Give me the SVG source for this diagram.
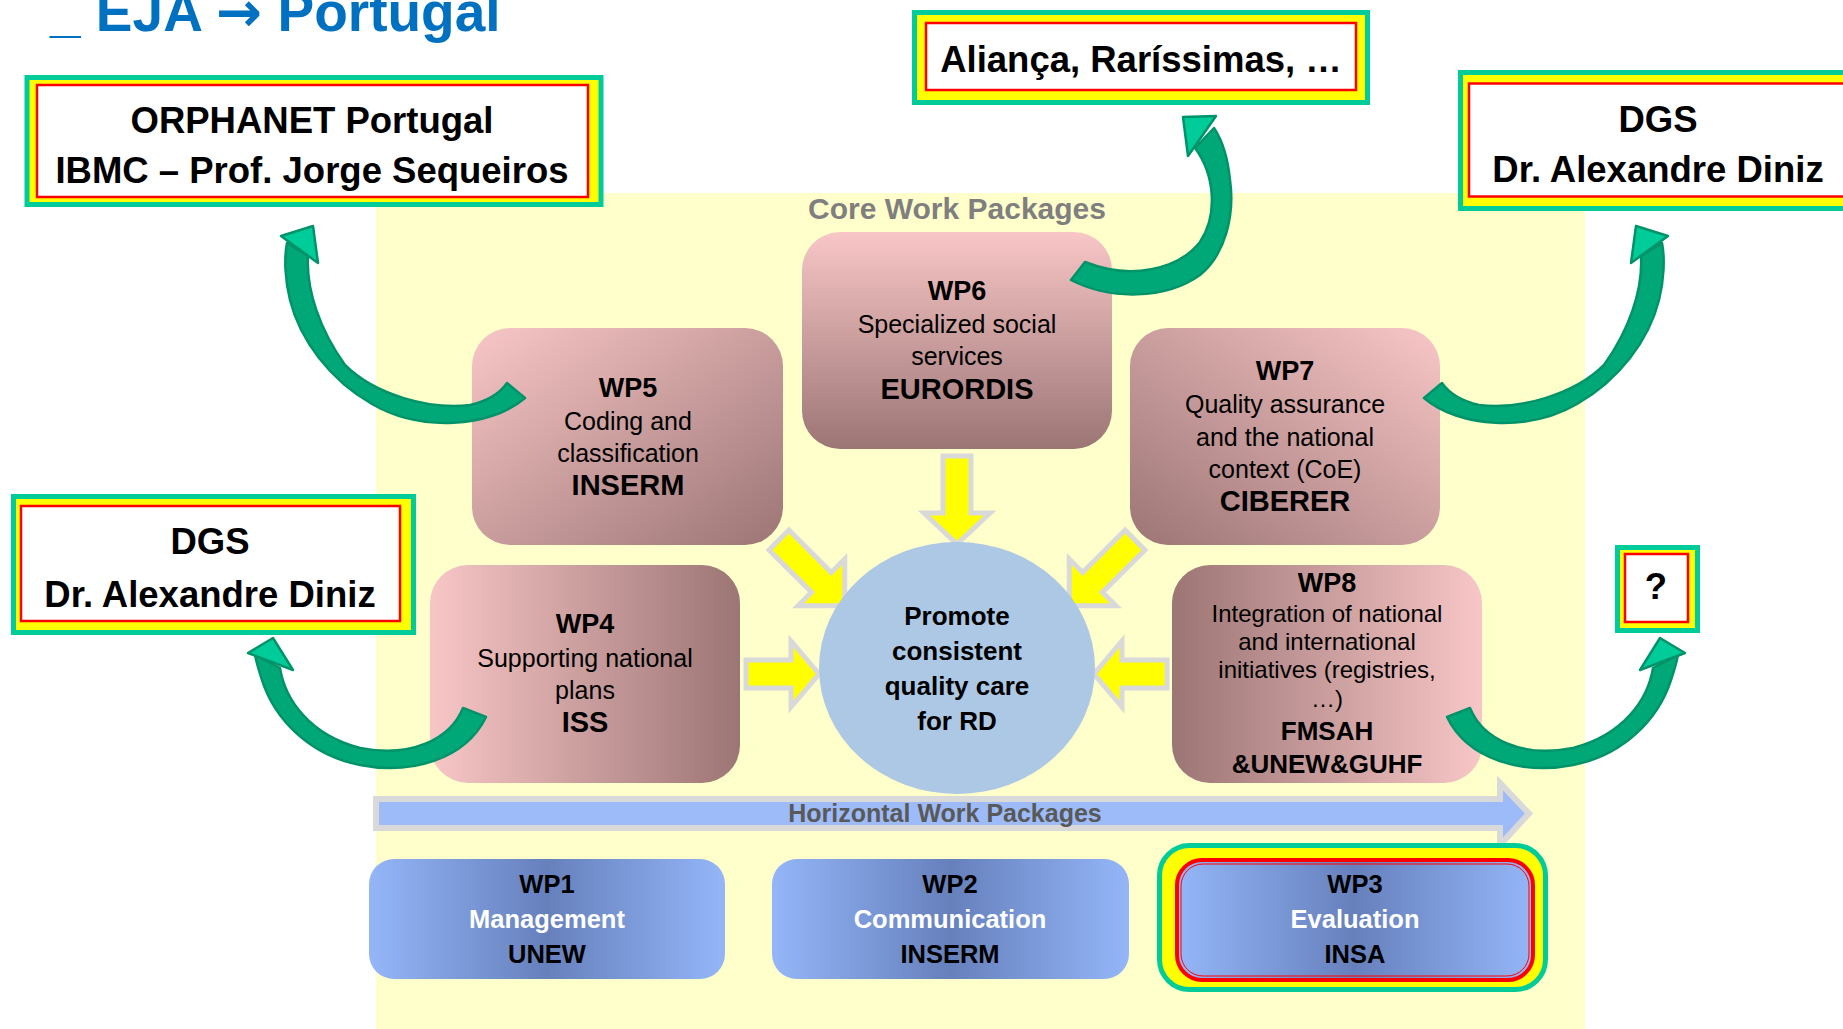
<svg xmlns="http://www.w3.org/2000/svg" width="1843" height="1029" viewBox="0 0 1843 1029">
<defs>
<style>
.t{font-family:"Liberation Sans",Arial,sans-serif;text-anchor:middle;fill:#000}
.b{font-weight:bold}
.hlo{fill:#FFFF00;stroke:#00CC99;stroke-width:5}
.hli{fill:#FFFFFF;stroke:#FF0000;stroke-width:2.5}
.hlt{font-size:36.5px;font-weight:bold}
.pk{font-size:25px}
.pkh{font-size:27px;font-weight:bold}
.pko{font-size:29px;font-weight:bold}
.ya{fill:#FFFF00;stroke:#D9D9D9;stroke-width:5;stroke-linejoin:miter}
.ga{fill:#00A878;stroke:#00936A;stroke-width:2.5;stroke-linejoin:round}
.gh{fill:#00CC99;stroke:#00936A;stroke-width:2.5;stroke-linejoin:round}
.bt{font-size:25.5px;font-weight:bold}
</style>
<linearGradient id="gV" x1="0" y1="0" x2="0" y2="1"><stop offset="0" stop-color="#F8C6C6"/><stop offset="1" stop-color="#9C7575"/></linearGradient>
<linearGradient id="gTLBR" x1="0" y1="0" x2="1" y2="1"><stop offset="0" stop-color="#F8C6C6"/><stop offset="1" stop-color="#9C7575"/></linearGradient>
<linearGradient id="gBLTR" x1="0" y1="1" x2="1" y2="0"><stop offset="0" stop-color="#9C7575"/><stop offset="1" stop-color="#F8C6C6"/></linearGradient>
<linearGradient id="gLR" x1="0" y1="0" x2="1" y2="0"><stop offset="0" stop-color="#F8C6C6"/><stop offset="1" stop-color="#9C7575"/></linearGradient>
<linearGradient id="gRL" x1="0" y1="0" x2="1" y2="0"><stop offset="0" stop-color="#9C7575"/><stop offset="1" stop-color="#F8C6C6"/></linearGradient>
<linearGradient id="gBlue" x1="0" y1="0" x2="1" y2="0"><stop offset="0" stop-color="#94B6F8"/><stop offset="0.5" stop-color="#6680BC"/><stop offset="1" stop-color="#94B6F8"/></linearGradient>
</defs>

<rect x="0" y="0" width="1843" height="1029" fill="#FFFFFF"/>
<rect id="panel" x="376" y="193" width="1209" height="836" fill="#FFFFCC"/>

<text id="title" x="50" y="31" style="font-family:'Liberation Sans',Arial,sans-serif;font-size:55px;font-weight:bold;fill:#0070C0">_ EJA <tspan style="font-family:'DejaVu Sans',sans-serif">→</tspan> Portugal</text>

<text id="core-label" class="t b" x="957" y="219" style="font-size:30px;fill:#7F7F7F">Core Work Packages</text>

<g id="yellow-arrows">
<path class="ya" d="M0,-14 L57,-14 L57,-33 L88,0 L57,33 L57,14 L0,14 Z" transform="translate(957,456) rotate(90)"/>
<path class="ya" d="M0,-14 L45,-14 L45,-33 L73,0 L45,33 L45,14 L0,14 Z" transform="translate(746,674)"/>
<path class="ya" d="M0,-14 L45,-14 L45,-33 L73,0 L45,33 L45,14 L0,14 Z" transform="translate(1167,674) rotate(180)"/>
<path class="ya" d="M0,-14 L60,-14 L60,-33 L93,0 L60,33 L60,14 L0,14 Z" transform="translate(779,540) rotate(45)"/>
<path class="ya" d="M0,-14 L60,-14 L60,-33 L93,0 L60,33 L60,14 L0,14 Z" transform="translate(1135,540) rotate(135)"/>
</g>

<g id="center">
<ellipse cx="957" cy="668" rx="138" ry="126" fill="#ADC8E4"/>
<text class="t b" x="957" y="625" style="font-size:26px">Promote</text>
<text class="t b" x="957" y="660" style="font-size:26px">consistent</text>
<text class="t b" x="957" y="695" style="font-size:26px">quality care</text>
<text class="t b" x="957" y="730" style="font-size:26px">for RD</text>
</g>

<g id="wp6">
<rect x="802" y="232" width="310" height="217" rx="38" fill="url(#gV)"/>
<text class="t pkh" x="957" y="300">WP6</text>
<text class="t pk" x="957" y="333">Specialized social</text>
<text class="t pk" x="957" y="365">services</text>
<text class="t pko" x="957" y="399">EURORDIS</text>
</g>

<g id="wp5">
<rect x="472" y="328" width="311" height="217" rx="38" fill="url(#gTLBR)"/>
<text class="t pkh" x="628" y="397">WP5</text>
<text class="t pk" x="628" y="430">Coding and</text>
<text class="t pk" x="628" y="462">classification</text>
<text class="t pko" x="628" y="495">INSERM</text>
</g>

<g id="wp7">
<rect x="1130" y="328" width="310" height="217" rx="38" fill="url(#gBLTR)"/>
<text class="t pkh" x="1285" y="380">WP7</text>
<text class="t pk" x="1285" y="413">Quality assurance</text>
<text class="t pk" x="1285" y="446">and the national</text>
<text class="t pk" x="1285" y="478">context (CoE)</text>
<text class="t pko" x="1285" y="511">CIBERER</text>
</g>

<g id="wp4">
<rect x="430" y="565" width="310" height="218" rx="38" fill="url(#gLR)"/>
<text class="t pkh" x="585" y="633">WP4</text>
<text class="t pk" x="585" y="667">Supporting national</text>
<text class="t pk" x="585" y="699">plans</text>
<text class="t pko" x="585" y="732">ISS</text>
</g>

<g id="wp8">
<rect x="1172" y="565" width="310" height="218" rx="38" fill="url(#gRL)"/>
<text class="t pkh" x="1327" y="592">WP8</text>
<text class="t" x="1327" y="622" style="font-size:24px">Integration of national</text>
<text class="t" x="1327" y="650" style="font-size:24px">and international</text>
<text class="t" x="1327" y="678" style="font-size:24px">initiatives (registries,</text>
<text class="t" x="1327" y="707" style="font-size:24px">…)</text>
<text class="t b" x="1327" y="740" style="font-size:26px">FMSAH</text>
<text class="t b" x="1327" y="773" style="font-size:26px">&amp;UNEW&amp;GUHF</text>
</g>

<g id="horizontal-arrow">
<path d="M376,799 L1500,799 L1500,783 L1529,813.5 L1500,845 L1500,828 L376,828 Z" fill="#9DBBF8" stroke="#D9D9D9" stroke-width="6"/>
<text class="t b" x="945" y="822" style="font-size:25px;fill:#595959">Horizontal Work Packages</text>
</g>

<g id="wp1">
<rect x="369" y="859" width="356" height="120" rx="25" fill="url(#gBlue)"/>
<text class="t bt" x="547" y="893">WP1</text>
<text class="t bt" x="547" y="928" style="fill:#FFFFFF">Management</text>
<text class="t bt" x="547" y="963">UNEW</text>
</g>

<g id="wp2">
<rect x="772" y="859" width="357" height="120" rx="25" fill="url(#gBlue)"/>
<text class="t bt" x="950" y="893">WP2</text>
<text class="t bt" x="950" y="928" style="fill:#FFFFFF">Communication</text>
<text class="t bt" x="950" y="963">INSERM</text>
</g>

<g id="wp3">
<rect x="1159.5" y="845.5" width="386" height="144" rx="30" class="hlo"/>
<rect x="1177" y="860" width="356" height="120" rx="25" fill="url(#gBlue)" stroke="#FF0000" stroke-width="4"/>
<rect x="1181" y="864" width="348" height="112" rx="22" fill="none" stroke="#FF0000" stroke-width="1"/>
<text class="t bt" x="1355" y="893">WP3</text>
<text class="t bt" x="1355" y="928" style="fill:#FFFFFF">Evaluation</text>
<text class="t bt" x="1355" y="963">INSA</text>
</g>

<g id="orphanet">
<rect x="27" y="77.5" width="574" height="127" class="hlo"/>
<rect x="37" y="85" width="551" height="112" class="hli"/>
<text class="t hlt" x="312" y="133">ORPHANET Portugal</text>
<text class="t hlt" x="312" y="183">IBMC – Prof. Jorge Sequeiros</text>
</g>

<g id="alianca">
<rect x="914.5" y="12.5" width="453" height="90" class="hlo"/>
<rect x="926" y="23" width="430" height="67" class="hli"/>
<text class="t hlt" x="1141" y="72">Aliança, Raríssimas, …</text>
</g>

<g id="dgs-right">
<rect x="1460.5" y="72.5" width="400" height="136" class="hlo"/>
<rect x="1469" y="83.5" width="400" height="113" class="hli"/>
<text class="t hlt" x="1658" y="132">DGS</text>
<text class="t hlt" x="1658" y="182">Dr. Alexandre Diniz</text>
</g>

<g id="dgs-left">
<rect x="13.5" y="496.5" width="400" height="136" class="hlo"/>
<rect x="21" y="506" width="379" height="115" class="hli"/>
<text class="t hlt" x="210" y="554">DGS</text>
<text class="t hlt" x="210" y="607">Dr. Alexandre Diniz</text>
</g>

<g id="question">
<rect x="1617.5" y="547.5" width="80" height="83" class="hlo"/>
<rect x="1625" y="554" width="63" height="68" class="hli"/>
<text class="t hlt" x="1656" y="599">?</text>
</g>

<g id="connectors">
<g id="c-wp5-orphanet">
<path class="ga" d="M525,398 C490,428 420,432 372,404 C330,380 300,340 290,300 C285,280 284,258 287,243 L308,256 C306,290 320,330 345,365 C375,395 430,410 470,405 C488,401 500,393 507,383 Z"/>
<path class="gh" d="M281,236 L313,226 L318,263 Z"/>
</g>
<g id="c-wp7-dgs" transform="translate(1949,0) scale(-1,1)">
<path class="ga" d="M525,398 C490,428 420,432 372,404 C330,380 300,340 290,300 C285,280 284,258 287,243 L308,256 C306,290 320,330 345,365 C375,395 430,410 470,405 C488,401 500,393 507,383 Z"/>
<path class="gh" d="M281,236 L313,226 L318,263 Z"/>
</g>
<g id="c-wp6-alianca">
<path class="ga" d="M1071,280 C1110,300 1165,300 1200,275 C1225,255 1235,215 1230,180 C1228,160 1222,140 1214,128 L1195,148 C1215,175 1218,215 1200,242 C1178,270 1130,280 1085,262 Z"/>
<path class="gh" d="M1216,116 L1183,117 L1188,156 Z"/>
</g>
<g id="c-wp4-dgs">
<path class="ga" d="M486,717 C465,760 410,775 360,765 C310,755 275,720 262,680 C258,668 256,660 255,655 L280,668 C285,700 310,735 360,748 C410,758 450,740 463,708 Z"/>
<path class="gh" d="M248,653 L273,638 L293,670 Z"/>
</g>
<g id="c-wp8-question" transform="translate(1933,0) scale(-1,1)">
<path class="ga" d="M486,717 C465,760 410,775 360,765 C310,755 275,720 262,680 C258,668 256,660 255,655 L280,668 C285,700 310,735 360,748 C410,758 450,740 463,708 Z"/>
<path class="gh" d="M248,653 L273,638 L293,670 Z"/>
</g>
</g>
</svg>
